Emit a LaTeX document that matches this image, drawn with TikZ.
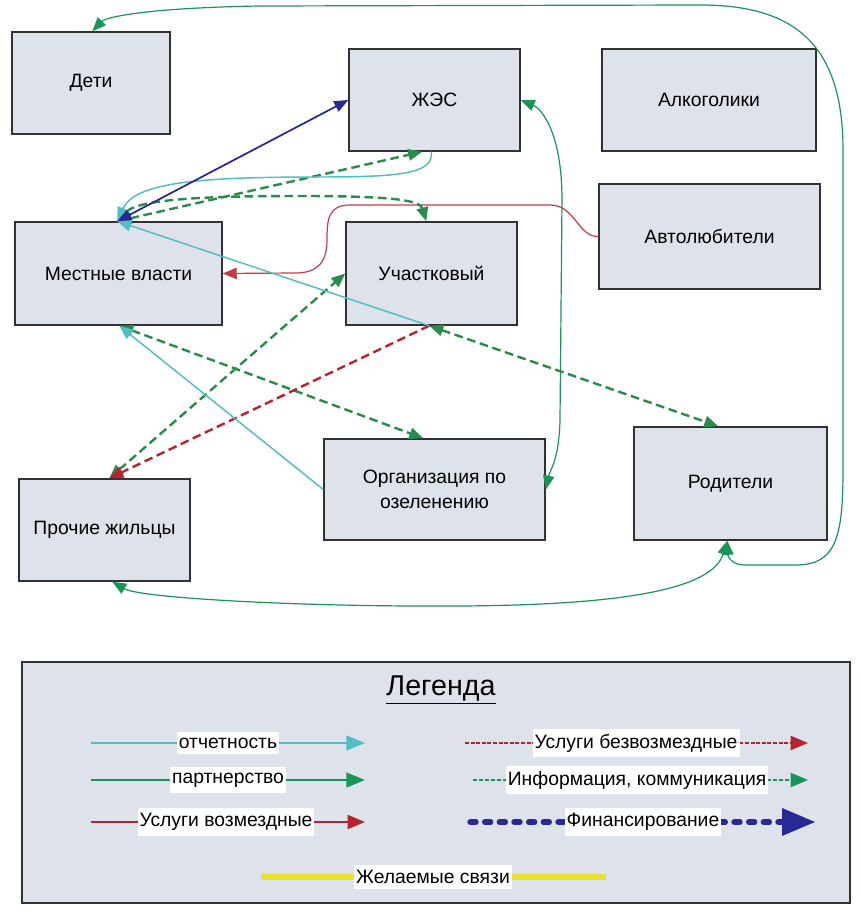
\documentclass[tikz,border=0pt]{standalone}
\usepackage{fontspec}
\setmainfont{Liberation Sans}
\usetikzlibrary{arrows.meta,calc}
\definecolor{boxfill}{RGB}{222,226,234}
\definecolor{boxline}{RGB}{50,50,50}
\definecolor{cyanc}{RGB}{80,190,195}
\definecolor{partc}{RGB}{25,150,85}
\definecolor{infoc}{RGB}{40,140,75}
\definecolor{redc}{RGB}{185,35,45}
\definecolor{paidc}{RGB}{195,60,70}
\definecolor{navyc}{RGB}{40,40,150}
\definecolor{yellowc}{RGB}{235,225,40}
\begin{document}
\begin{tikzpicture}[x=0.75pt,y=-0.75pt,
  >={Triangle[length=10.5pt,width=8.5pt]},
  box/.style={draw=boxline,fill=boxfill,line width=1.1pt,inner sep=0pt,align=center,font=\fontsize{14.5}{19}\selectfont},
  rep/.style={draw=cyanc,line width=1.1pt},
  part/.style={draw=partc,line width=0.9pt},
  info/.style={draw=infoc,line width=1.8pt,dash pattern=on 6.5pt off 3.5pt},
  paid/.style={draw=paidc,line width=0.9pt},
  free/.style={draw=redc,line width=1.8pt,dash pattern=on 6.5pt off 3.5pt},
  fin/.style={draw=navyc,line width=1.3pt},
  lab/.style={fill=white,inner xsep=1.5pt,inner ysep=4pt,font=\fontsize{14.5}{16}\selectfont}
]
\path[fill=white] (0,0) rectangle (860,920);
\useasboundingbox (0,0) rectangle (860,920);

% boxes
\node[box,minimum width=118.5pt,minimum height=76.5pt] (det) at (91,83) {Дети};
\node[box,minimum width=128.25pt,minimum height=76.5pt] (zhes) at (434.5,100) {ЖЭС};
\node[box,minimum width=160.5pt,minimum height=76.5pt] (alk) at (709,100) {Алкоголики};
\node[box,minimum width=165.75pt,minimum height=78.75pt] (avto) at (709.5,236.5) {Автолюбители};
\node[box,minimum width=155.25pt,minimum height=77.25pt] (mv) at (118.5,273.5) {Местные власти};
\node[box,minimum width=128.25pt,minimum height=77.25pt] (uch) at (431.5,273.5) {Участковый};
\node[box,minimum width=128.25pt,minimum height=76.5pt] (pr) at (104.5,530) {Прочие жильцы};
\node[box,minimum width=165.75pt,minimum height=75.75pt] (org) at (434.5,489.5) {Организация по\\озеленению};
\node[box,minimum width=144.75pt,minimum height=84.75pt] (rod) at (730.5,483.5) {Родители};

% attachment points
\coordinate (mvA) at ($(mv.north west)+(103,0)$);
\coordinate (mvB) at ($(mv.south west)+(105,0)$);
\coordinate (zhB1) at ($(zhes.south west)+(83,0)$);
\coordinate (zhB2) at ($(zhes.south west)+(74,0)$);
\coordinate (uchT) at ($(uch.north west)+(81,0)$);
\coordinate (uchB) at ($(uch.south west)+(84,0)$);
\coordinate (orgT) at ($(org.north west)+(100,0)$);
\coordinate (rodT) at ($(rod.north west)+(85,0)$);
\coordinate (rodB) at ($(rod.south west)+(94,0)$);
\coordinate (prT) at ($(pr.north west)+(91,0)$);
\coordinate (prB) at ($(pr.south west)+(94,0)$);
\coordinate (detT) at ($(det.north west)+(81,0)$);

% partnership (green solid)
\draw[part,<->] (detT) .. controls (105,18) and (140,8) .. (260,6) -- (700,5)
  .. controls (790,5) and (843,40) .. (843,150) -- (843,470)
  .. controls (843,540) and (835,565) .. (795,565) -- (745,565)
  .. controls (733,565) and (728,558) .. (rodB);
\draw[part,<->] (prB) .. controls (140,598) and (300,607) .. (460,606)
  .. controls (620,605) and (712,590) .. (rodB);
\draw[part,<->] (zhes.east) .. controls (540,108) and (562,130) .. (562,200) -- (560,420)
  .. controls (559,460) and (550,470) .. (org.east);

% paid services (red solid)
\draw[paid,->] (avto.west) .. controls (578,237) and (575,205) .. (550,205) -- (350,205)
  .. controls (328,205) and (327,220) .. (327,240)
  .. controls (327,265) and (315,273) .. (295,273) -- (mv.east);

% information (green dashed)
\draw[info,<->] (mvA) -- (zhB2);
\draw[info,<->] (mvA) .. controls (140,198) and (220,196) .. (300,196)
  .. controls (390,196) and (420,200) .. (uchT);
\draw[info,<->] (mvB) -- (orgT);
\draw[info,<->] (uchB) -- (rodT);
\draw[info,<->] (prT) -- (uch.west);

% free services (red dashed)
\draw[free,->] (uchB) -- (prT);

% reporting (cyan)
\draw[rep,->] (zhB1) .. controls +(3,22) and (400,177) .. (320,177)
  .. controls (200,177) and (135,182) .. (mvA);
\draw[rep,->] (uchB) -- (mvA);
\draw[rep,->] (org.west) -- (mvB);

% financing (navy)
\draw[fin,<->] (mvA) -- (zhes.west);

% legend
\node[draw=boxline,fill=boxfill,line width=1.1pt,minimum width=621pt,minimum height=180.75pt] (leg) at (436,782.5) {};
\node (legt) at (441,690) {\fontsize{21.5}{24}\selectfont\underline{Легенда}};

\coordinate (l1a) at (91,743); \coordinate (l1b) at (365,743);
\coordinate (l2a) at (91,780); \coordinate (l2b) at (365,780);
\coordinate (l3a) at (91,822); \coordinate (l3b) at (365,822);
\coordinate (r1a) at (465,743); \coordinate (r1b) at (808,743);
\coordinate (r2a) at (473,780); \coordinate (r2b) at (808,780);
\coordinate (r3a) at (470,822); \coordinate (r3b) at (815,822);
\coordinate (ya) at (261,877); \coordinate (yb) at (606,877);

\draw[draw=cyanc,line width=1.6pt,-{Triangle[length=14pt,width=11pt]}] (l1a) -- (l1b);
\draw[draw=partc,line width=1.6pt,-{Triangle[length=14pt,width=11pt]}] (l2a) -- (l2b);
\draw[draw=redc,line width=1.4pt,-{Triangle[length=13pt,width=10.5pt]}] (l3a) -- (l3b);
\draw[draw=redc,line width=1.6pt,dash pattern=on 3pt off 1.2pt,-{Triangle[length=13pt,width=10.5pt]}] (r1a) -- (r1b);
\draw[draw=partc,line width=1.6pt,dash pattern=on 3pt off 1.5pt,-{Triangle[length=13pt,width=10.5pt]}] (r2a) -- (r2b);
\draw[draw=navyc,line width=4pt,line cap=round,dash pattern=on 4.5pt off 6.5pt] (r3a) -- ($(r3b)+(-28,0)$);
\fill[navyc] ($(r3b)+(-33,-14)$) -- (r3b) -- ($(r3b)+(-33,14)$) -- cycle;
\draw[draw=yellowc,line width=4.5pt] (ya) -- (yb);

\node[lab] (t1) at (228,743) {отчетность};
\node[lab] (t2) at (228,780) {партнерство};
\node[lab] (t3) at (226,822) {Услуги возмездные};
\node[lab] (t4) at (636,743) {Услуги безвозмездные};
\node[lab] (t5) at (637,780) {Информация, коммуникация};
\node[lab] (t6) at (643,822) {Финансирование};
\node[lab] (t7) at (433,877) {Желаемые связи};
\end{tikzpicture}
\end{document}
